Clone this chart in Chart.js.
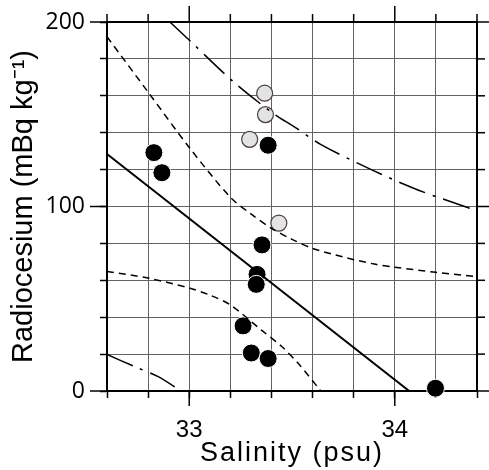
<!DOCTYPE html>
<html>
<head>
<meta charset="utf-8">
<title>Radiocesium vs Salinity</title>
<script src="https://cdn.jsdelivr.net/npm/chart.js@4.4.1/dist/chart.umd.min.js"></script>
<style>
    html, body { margin: 0; padding: 0; background: #fff; }
    #chart { display: block; }
</style>
</head>
<body>
<canvas id="chart" width="489" height="470"></canvas>
<script>
// Salinity axis
const salinityMin = 32.6;
const salinityMax = 34.4;
const salinityStep = 0.2;
const salinityLabels = [33, 34];

// Radiocesium axis
const radioMin = 0;
const radioMax = 200;
const radioStep = 20;
const radioLabels = [0, 100, 200];

// Samples drawn as black circles
const darkSalinity = [32.828, 32.867, 33.384, 33.354, 33.330, 33.326, 33.262, 33.302, 33.384, 34.198];
const darkRadio = [129.2, 118.3, 133.2, 79.2, 63.2, 57.8, 35.3, 20.6, 17.6, 1.5];

// Samples drawn as grey circles
const lightSalinity = [33.367, 33.371, 33.294, 33.436];
const lightRadio = [161.4, 149.8, 136.4, 91.0];

// Regression line
const fitSalinity = [32.6, 34.07];
const fitRadio = [128.5, 0];

// Inner band (short dashes)
const innerUpperSalinity = [32.6, 32.8, 33.0, 33.2, 33.3, 33.4, 33.5, 33.6, 33.75, 33.9, 34.0, 34.2, 34.4];
const innerUpperRadio = [192, 162, 132, 105, 96, 88.2, 82.2, 77.3, 72.6, 68.8, 67.1, 64.3, 62.0];
const innerLowerSalinity = [32.6, 32.8, 33.0, 33.1, 33.2, 33.35, 33.45, 33.53, 33.64];
const innerLowerRadio = [64.8, 61.2, 55.8, 52.0, 46.7, 33.1, 24.1, 15.0, 0];

// Outer band (dash-dot)
const outerUpperSalinity = [32.906, 33.015, 33.21, 33.403, 33.517, 33.639, 33.883, 34.119, 34.372];
const outerUpperRadio = [200, 188.6, 168.1, 150.9, 142.8, 133.7, 120.1, 108.7, 98.8];
const outerLowerSalinity = [32.6, 32.735, 32.849, 32.96];
const outerLowerRadio = [19.8, 13.2, 7.8, 0];

/**
 * Builds {x, y} pairs from two parallel arrays.
 */
function toPoints(xs, ys) {
    return xs.map((x, i) => ({ x: x, y: ys[i] }));
}

/**
 * Returns the label for a tick value if it is one of the labelled ticks.
 */
function labelFor(list, value) {
    const hit = list.find(v => Math.abs(v - value) < 1e-6);
    return hit === undefined ? '' : String(hit);
}

function lineDataset(xs, ys, dash, width) {
    return {
        data: toPoints(xs, ys),
        showLine: true,
        borderColor: '#000',
        borderWidth: width,
        borderDash: dash,
        pointRadius: 0,
        tension: 0.3,
        fill: false,
        clip: 0
    };
}

// Outer ticks on all four sides, longer ones at the labelled values
const frameTicks = {
    id: 'frameTicks',
    beforeDraw(chart) {
        const xs = chart.scales.x;
        if (!xs._spaced) {
            const orig = xs.drawTitle;
            xs.drawTitle = function () {
                this.ctx.save();
                this.ctx.letterSpacing = '2px';
                orig.call(this);
                this.ctx.restore();
            };
            xs._spaced = true;
        }
    },
    afterDraw(chart) {
        const { ctx, chartArea: area, scales: { x, y } } = chart;
        const seg = (x1, y1, x2, y2) => {
            ctx.beginPath();
            ctx.moveTo(x1, y1);
            ctx.lineTo(x2, y2);
            ctx.stroke();
        };
        ctx.save();
        ctx.strokeStyle = '#000';
        ctx.lineWidth = 1.5;
        x.ticks.forEach(t => {
            const px = x.getPixelForValue(t.value);
            const major = labelFor(salinityLabels, t.value) !== '';
            seg(px, area.top, px, area.top - (major ? 16 : 8));
            if (major) seg(px, area.bottom, px, area.bottom + 15);
        });
        y.ticks.forEach(t => {
            const py = y.getPixelForValue(t.value);
            const major = labelFor(radioLabels, t.value) !== '';
            seg(area.right, py, area.right + (major ? 12 : 8), py);
            if (major) seg(area.left, py, area.left - 17, py);
        });
        ctx.lineWidth = 2;
        seg(area.left - 1, area.top, area.right + 1, area.top);
        seg(area.right, area.top, area.right, area.bottom);
        ctx.restore();
    }
};

function renderChart() {
    const ctx = document.getElementById('chart').getContext('2d');

    new Chart(ctx, {
        type: 'scatter',
        data: {
            datasets: [
                lineDataset(fitSalinity, fitRadio, [], 2),
                lineDataset(innerUpperSalinity, innerUpperRadio, [7, 5], 1.5),
                lineDataset(innerLowerSalinity, innerLowerRadio, [7, 5], 1.5),
                lineDataset(outerUpperSalinity, outerUpperRadio, [28, 8, 3, 8], 1.5),
                lineDataset(outerLowerSalinity, outerLowerRadio, [28, 8, 3, 8], 1.5),
                {
                    data: toPoints(lightSalinity, lightRadio),
                    pointRadius: 8,
                    pointBackgroundColor: '#e3e3e3',
                    pointBorderColor: '#4a4040',
                    pointBorderWidth: 1.2,
                    clip: false
                },
                {
                    data: toPoints(darkSalinity, darkRadio),
                    pointRadius: 9,
                    pointBackgroundColor: '#000',
                    pointBorderColor: '#fff',
                    pointBorderWidth: 1,
                    clip: false
                }
            ]
        },
        options: {
            responsive: false,
            animation: false,
            layout: { padding: { top: 22, right: 12, left: 0, bottom: 0 } },
            plugins: {
                legend: { display: false },
                tooltip: { enabled: false }
            },
            scales: {
                x: {
                    type: 'linear',
                    min: salinityMin,
                    max: salinityMax,
                    afterFit: scale => {
                        scale.height = 79;
                        scale.paddingLeft = 0;
                        scale.paddingRight = 0;
                    },
                    ticks: {
                        stepSize: salinityStep,
                        autoSkip: false,
                        maxRotation: 0,
                        padding: 18,
                        color: '#000',
                        font: { family: 'Liberation Sans', size: 24 },
                        callback: value => labelFor(salinityLabels, value)
                    },
                    grid: { color: '#626262', lineWidth: 1, tickLength: 7, tickColor: '#000', tickWidth: 1.5 },
                    border: { color: '#000', width: 2 },
                    title: {
                        display: true,
                        text: 'Salinity (psu)',
                        color: '#000',
                        font: { family: 'Liberation Sans', size: 27 },
                        padding: { top: 0, bottom: 0 }
                    }
                },
                y: {
                    type: 'linear',
                    min: radioMin,
                    max: radioMax,
                    afterFit: scale => {
                        scale.width = 107;
                        scale.paddingTop = 0;
                        scale.paddingBottom = 0;
                    },
                    ticks: {
                        stepSize: radioStep,
                        autoSkip: false,
                        padding: 15,
                        color: '#000',
                        font: { family: 'Open Sans', size: 23 },
                        callback: value => labelFor(radioLabels, value)
                    },
                    grid: { color: '#626262', lineWidth: 1, tickLength: 7, tickColor: '#000', tickWidth: 1.5 },
                    border: { color: '#000', width: 2 },
                    title: {
                        display: true,
                        text: 'Radiocesium (mBq kg⁻¹)',
                        color: '#000',
                        font: { family: 'Liberation Sans', size: 29 },
                        padding: { top: 7, bottom: 0 }
                    }
                }
            }
        },
        plugins: [frameTicks]
    });
}

document.addEventListener('DOMContentLoaded', renderChart);
</script>
</body>
</html>
